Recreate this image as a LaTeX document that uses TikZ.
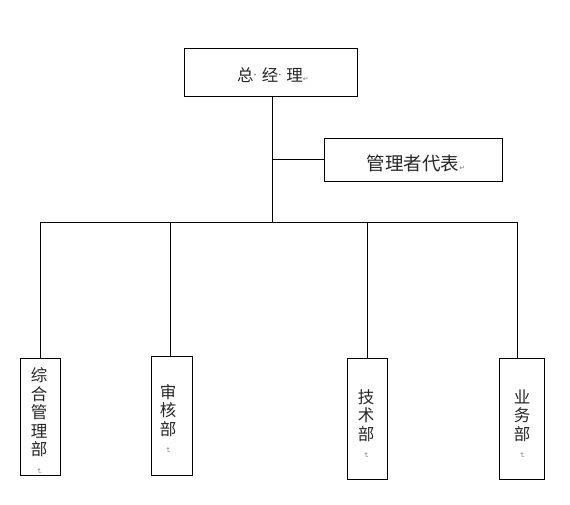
\documentclass[tikz,border=0pt]{standalone}
\usepackage{fontspec}
\usepackage{graphicx}
\newfontfamily\cjk{Noto Sans CJK SC}
\newfontfamily\markfont{DejaVu Sans}
\newcommand{\pmark}{{\markfont\fontsize{7}{7}\selectfont\color{gray}↵}}
\newcommand{\vpmark}{\rotatebox{-90}{\pmark}}
\newcommand{\mdot}{\raisebox{3pt}{\markfont\fontsize{10}{10}\selectfont·}\hspace{5pt}}
\begin{document}
\begin{tikzpicture}[x=1pt,y=-1pt,
  box/.style={draw, line width=0.9pt, inner sep=0pt},
  lbl/.style={inner sep=0pt, align=center,
    font=\cjk\fontsize{16.5}{18.5}\selectfont, text=black!85},
  link/.style={line width=0.9pt}]
\useasboundingbox (0,0) rectangle (570,505);
\node[box, minimum width=173pt, minimum height=48pt] (gm) at (270.5,72) {};
\node[lbl] (gmt) at (273,75) {总\mdot 经\mdot 理\pmark};
\node[box, minimum width=178pt, minimum height=43pt] (rep) at (413,159.5) {};
\node[lbl, font=\cjk\fontsize{18.5}{20}\selectfont] (rept) at (416,163) {管理者代表\pmark};
\node[box, minimum width=40pt, minimum height=117pt] (b1) at (40,416.5) {};
\node[lbl] (b1t) at (39,421) {综\\合\\管\\理\\部\\[-6pt]\vpmark};
\node[box, minimum width=40.6pt, minimum height=119pt] (b2) at (172,415.5) {};
\node[lbl] (b2t) at (168,419) {审\\核\\部\\[-6pt]\vpmark};
\node[box, minimum width=40pt, minimum height=121pt] (b3) at (367.3,418.5) {};
\node[lbl] (b3t) at (366,424) {技\\术\\部\\[-6pt]\vpmark};
\node[box, minimum width=45pt, minimum height=121pt] (b4) at (521.8,418.7) {};
\node[lbl] (b4t) at (522,424) {业\\务\\部\\[-6pt]\vpmark};
\coordinate (bus) at (272,222);
\coordinate (top) at (272,96);
\draw[link] (top) -- (bus);
\draw[link] (rep.west) -- (rep.west -| top);
\draw[link] (b1.north) |- (bus);
\draw[link] ([xshift=-2pt]b2.north) |- (bus);
\draw[link] (b3.north) |- (bus);
\draw[link] ([xshift=-4.8pt]b4.north) |- (bus);
\end{tikzpicture}
\end{document}
